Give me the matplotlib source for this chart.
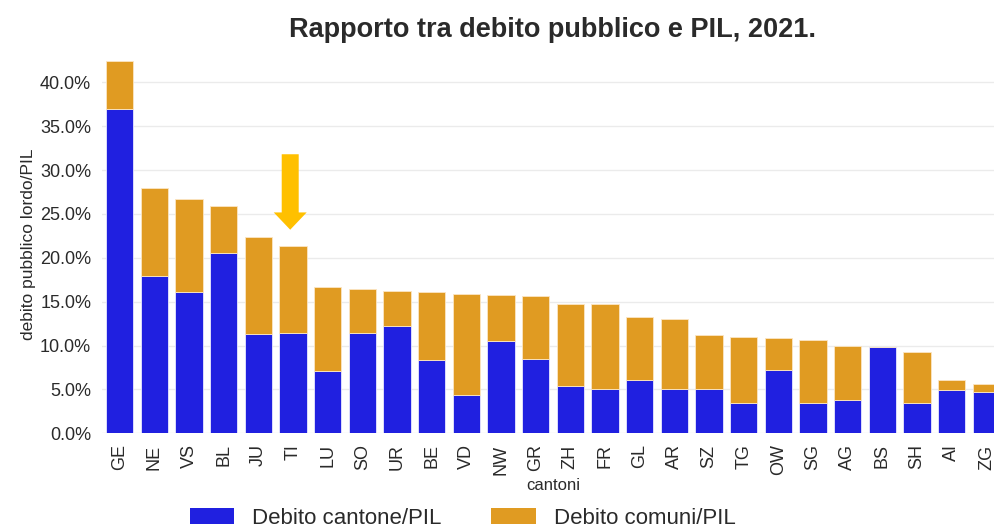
import matplotlib
matplotlib.use("Agg")
import matplotlib.pyplot as plt
from matplotlib.patches import FancyArrow, Patch
from matplotlib.ticker import FuncFormatter
import numpy as np

plt.rcParams['font.family'] = ['Liberation Sans', 'DejaVu Sans']

cantoni = ['GE', 'NE', 'VS', 'BL', 'JU', 'TI', 'LU', 'SO', 'UR', 'BE', 'VD', 'NW', 'GR',
           'ZH', 'FR', 'GL', 'AR', 'SZ', 'TG', 'OW', 'SG', 'AG', 'BS', 'SH', 'AI', 'ZG']
debito_cantone = [36.9, 17.9, 16.1, 20.5, 11.3, 11.4, 7.1, 11.4, 12.2, 8.3, 4.4, 10.5, 8.5,
                  5.4, 5.1, 6.1, 5.1, 5.0, 3.4, 7.2, 3.5, 3.8, 9.8, 3.4, 4.9, 4.7]
debito_comuni = [5.5, 10.0, 10.6, 5.4, 11.1, 9.9, 9.6, 5.1, 4.0, 7.75, 11.5, 5.25, 7.1,
                 9.35, 9.65, 7.1, 7.9, 6.25, 7.6, 3.7, 7.1, 6.2, 0.0, 5.9, 1.2, 0.9]
y_ticks = [0, 5, 10, 15, 20, 25, 30, 35, 40]

blue = '#2020E0'
orange = '#E09B22'
arrow_col = '#FFC000'
text_col = '#2a2a2a'

fig = plt.figure(figsize=(9.95, 5.29), dpi=100)
ax = fig.add_axes([0.1028, 0.1809, 0.906, 0.7133])

x = np.arange(len(cantoni))
ax.bar(x, debito_cantone, width=0.79, color=blue, edgecolor='#e8e8ff', linewidth=0.6, zorder=2)
ax.bar(x, debito_comuni, bottom=debito_cantone, width=0.79, color=orange,
       edgecolor='#fbe6c4', linewidth=0.6, zorder=2)

ax.set_xlim(-0.5, len(cantoni) - 0.5)
ax.set_ylim(0, 43)
ax.set_yticks(y_ticks)
ax.yaxis.set_major_formatter(FuncFormatter(lambda v, p: f"{v:.1f}%"))
ax.set_xticks(x)
ax.set_xticklabels(cantoni, rotation=90)
ax.tick_params(axis='both', length=0, colors=text_col, labelsize=13)
ax.tick_params(axis='x', pad=8)
ax.tick_params(axis='y', pad=8)
for s in ax.spines.values():
    s.set_visible(False)
ax.grid(axis='y', color='#ebebeb', linewidth=1, zorder=0)
ax.set_axisbelow(True)

ax.set_ylabel('debito pubblico lordo/PIL', fontsize=12.5, color=text_col, labelpad=3)
ax.set_xlabel('cantoni', fontsize=12, color=text_col, labelpad=2)

# arrow pointing to TI
ti = cantoni.index('TI') - 0.08
arr = FancyArrow(ti, 31.8, 0, -8.6, width=0.49, head_width=0.95, head_length=1.97,
                 length_includes_head=True, color=arrow_col, zorder=3, linewidth=0)
ax.add_patch(arr)

fig.text(0.5556, 0.943, 'Rapporto tra debito pubblico e PIL, 2021.', ha='center', va='center',
         fontsize=19.5, fontweight='bold', color=text_col)

handles = [Patch(facecolor=blue, edgecolor='none'), Patch(facecolor=orange, edgecolor='none')]
fig.legend(handles, ['Debito cantone/PIL', 'Debito comuni/PIL'], loc='center',
           bbox_to_anchor=(0.465, 0.02), ncol=2, frameon=False, fontsize=16,
           handlelength=2.0, handleheight=0.75, handletextpad=0.8, columnspacing=2.25,
           labelcolor=text_col)

fig.savefig('out.png', dpi=100)
